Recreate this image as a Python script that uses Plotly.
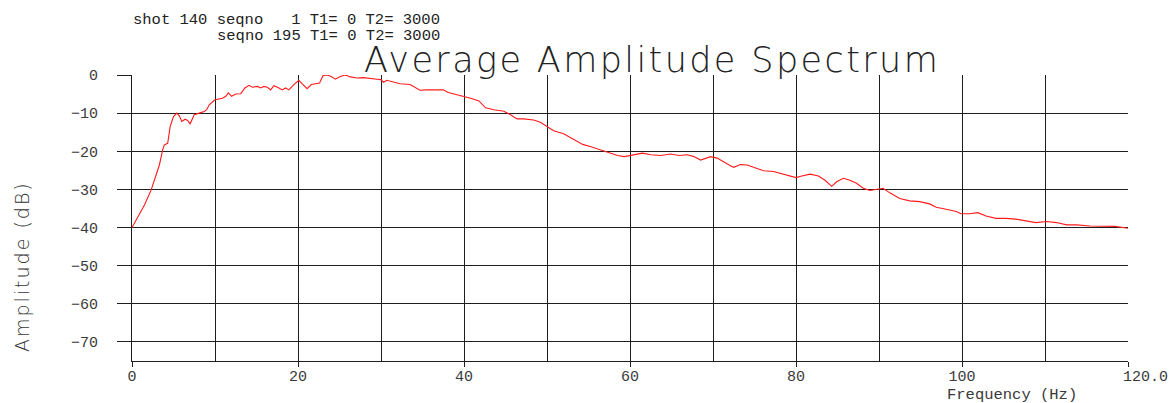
import plotly.graph_objects as go

# Averaged amplitude spectrum (frequency in Hz, amplitude in dB)
freq_hz = [
    0.0, 0.9, 1.5, 2.3, 2.7, 3.3, 3.7, 3.9, 4.3, 4.6, 5.0, 5.4, 5.7, 6.0, 6.4,
    6.7, 7.0, 7.5, 8.1, 8.7, 9.0, 9.3, 10.0, 10.9, 11.3, 11.6, 12.0, 12.5, 13.1,
    13.6, 14.1, 14.5, 15.1, 15.5, 15.9, 16.3, 16.7, 17.1, 17.7, 18.1, 18.5, 18.9,
    19.5, 20.1, 20.6, 21.1, 21.6, 22.1, 22.6, 23.0, 23.5, 24.0, 24.5, 25.1, 25.7,
    26.3, 27.1, 27.9, 28.7, 29.5, 30.0, 30.3, 30.7, 31.5, 32.3, 33.5, 34.3, 34.7,
    35.5, 36.5, 37.5, 38.1, 38.7, 39.3, 39.8, 40.8, 41.8, 42.6, 43.6, 44.8, 45.6,
    46.4, 47.2, 48.4, 49.2, 50.0, 50.8, 52.0, 53.2, 54.3, 55.3, 56.5, 57.5, 58.5,
    59.3, 60.1, 61.5, 62.5, 63.7, 64.9, 65.9, 66.9, 67.7, 68.5, 69.1, 69.7, 70.5,
    71.3, 72.1, 72.5, 73.3, 74.1, 74.9, 76.1, 77.3, 78.5, 79.3, 80.0, 80.7, 81.7,
    82.7, 83.5, 84.3, 84.9, 85.7, 86.5, 87.3, 88.1, 88.9, 89.7, 90.5, 91.3, 92.5,
    93.7, 94.9, 96.1, 96.9, 98.1, 99.3, 99.9, 100.9, 101.9, 102.9, 104.1, 105.3,
    106.5, 107.7, 108.9, 110.2, 111.4, 112.6, 113.8, 115.4, 117.0, 118.4, 120.0,
]
amp_db = [
    -40.0, -36.3, -34.1, -30.2, -27.5, -23.6, -19.6, -18.3, -17.9, -13.5, -10.9,
    -10.0, -10.7, -12.2, -11.6, -11.9, -12.8, -10.4, -10.0, -9.6, -9.1, -7.8,
    -6.5, -6.1, -5.6, -4.7, -5.6, -5.0, -4.9, -3.4, -2.7, -3.2, -3.0, -3.4, -3.0,
    -3.2, -3.9, -2.8, -3.4, -3.9, -3.4, -3.9, -2.5, -1.4, -2.5, -3.6, -2.5, -2.3,
    -2.1, -0.2, 0.0, -0.4, -1.1, -0.4, 0.0, -0.5, -0.8, -0.7, -1.0, -1.1, -1.2,
    -1.9, -1.4, -1.9, -2.3, -2.5, -3.4, -4.0, -3.9, -3.9, -3.9, -4.6, -4.9, -5.2,
    -5.4, -6.1, -6.8, -8.6, -9.1, -9.5, -10.4, -11.5, -11.5, -11.8, -12.4, -13.5,
    -14.6, -15.4, -16.8, -18.2, -18.8, -19.6, -20.3, -21.1, -21.4, -21.0, -20.5,
    -20.9, -21.1, -20.7, -21.1, -20.9, -21.4, -22.3, -21.8, -21.4, -21.8, -22.9,
    -23.8, -24.2, -23.5, -23.6, -24.2, -25.1, -25.3, -26.0, -26.3, -26.9, -26.5,
    -26.0, -26.5, -27.6, -29.2, -28.0, -27.1, -27.6, -28.4, -29.7, -30.3, -30.0,
    -29.7, -30.9, -32.4, -33.0, -33.2, -33.8, -34.7, -35.2, -35.8, -36.4, -36.4,
    -36.1, -37.0, -37.6, -37.6, -37.8, -38.2, -38.7, -38.4, -38.7, -39.3, -39.3,
    -39.6, -39.7, -39.7, -40.2,
]

x_major_ticks = [0, 20, 40, 60, 80, 100, 120]
x_major_labels = ["0", "20", "40", "60", "80", "100", ""]
x_minor_grid = [10, 30, 50, 70, 90, 110]
y_ticks = [0, -10, -20, -30, -40, -50, -60, -70]

header_line1 = "shot 140 seqno   1 T1= 0 T2= 3000"
header_line2 = "seqno 195 T1= 0 T2= 3000"
title_text = "Average Amplitude Spectrum"
x_title = "Frequency (Hz)"
y_title = "Amplitude (dB)"
x_end_label = "120.0"

W, H = 1174, 403
ML, MR, MT, MB = 132, 46, 75, 42
PW, PH = W - ML - MR, H - MT - MB


def px(x):
    return (x - ML) / PW


def py(y):
    return (H - MB - y) / PH


MONO = "Liberation Mono"
THIN = "DejaVu Sans"
GRID = "#1e1e1e"
TXT = "#3a3a3a"

fig = go.Figure()
fig.add_trace(go.Scatter(
    x=freq_hz, y=amp_db, mode="lines",
    line=dict(color="#ff1a1a", width=1.1),
    hoverinfo="skip", showlegend=False,
))

fig.update_layout(
    width=W, height=H,
    margin=dict(l=ML, r=MR, t=MT, b=MB, pad=0),
    paper_bgcolor="white", plot_bgcolor="white",
    showlegend=False,
    font=dict(family=MONO, size=15, color=TXT),
)

fig.update_xaxes(
    range=[0, 120], tickvals=x_major_ticks, ticktext=x_major_labels,
    showgrid=True, gridcolor=GRID, gridwidth=1,
    minor=dict(tickvals=x_minor_grid, showgrid=True, gridcolor=GRID, gridwidth=1, ticks=""),
    ticks="outside", ticklen=5, tickcolor=GRID, tickwidth=1,
    showline=True, linecolor=GRID, linewidth=1,
    zeroline=False, ticklabelstandoff=-4,
    tickfont=dict(family=MONO, size=15, color=TXT),
)
fig.update_yaxes(
    range=[-75, 0], tickvals=y_ticks,
    showgrid=True, gridcolor=GRID, gridwidth=1,
    ticks="outside", ticklen=14, tickcolor=GRID, tickwidth=1,
    showline=True, linecolor=GRID, linewidth=1,
    zeroline=False, ticklabelstandoff=16,
    tickfont=dict(family=MONO, size=15, color=TXT),
)

annotations = [
    dict(text=header_line1, x=px(131), y=py(20), xanchor="left", yanchor="middle",
         font=dict(family=MONO, size=15.5, color="#222")),
    dict(text=header_line2, x=px(442), y=py(36), xanchor="right", yanchor="middle",
         font=dict(family=MONO, size=15.5, color="#222")),
    dict(text=f'<span style="letter-spacing:2.4px">{title_text}</span>',
         x=px(652), y=py(60), xanchor="center", yanchor="middle",
         font=dict(family=THIN, size=35, color="#222", weight=200)),
    dict(text=x_title, x=px(1079), y=py(395), xanchor="right", yanchor="middle",
         font=dict(family=MONO, size=15.5, color=TXT)),
    dict(text=x_end_label, x=px(1121), y=py(377), xanchor="left", yanchor="middle",
         font=dict(family=MONO, size=15, color=TXT)),
    dict(text=f'<span style="letter-spacing:2px">{y_title}</span>',
         x=px(22), y=py(267), xanchor="center", yanchor="middle", textangle=-90,
         font=dict(family=THIN, size=19, color="#333", weight=200)),
]
for a in annotations:
    a.update(xref="paper", yref="paper", showarrow=False)
fig.update_layout(annotations=annotations)

fig.write_html("out.html")
